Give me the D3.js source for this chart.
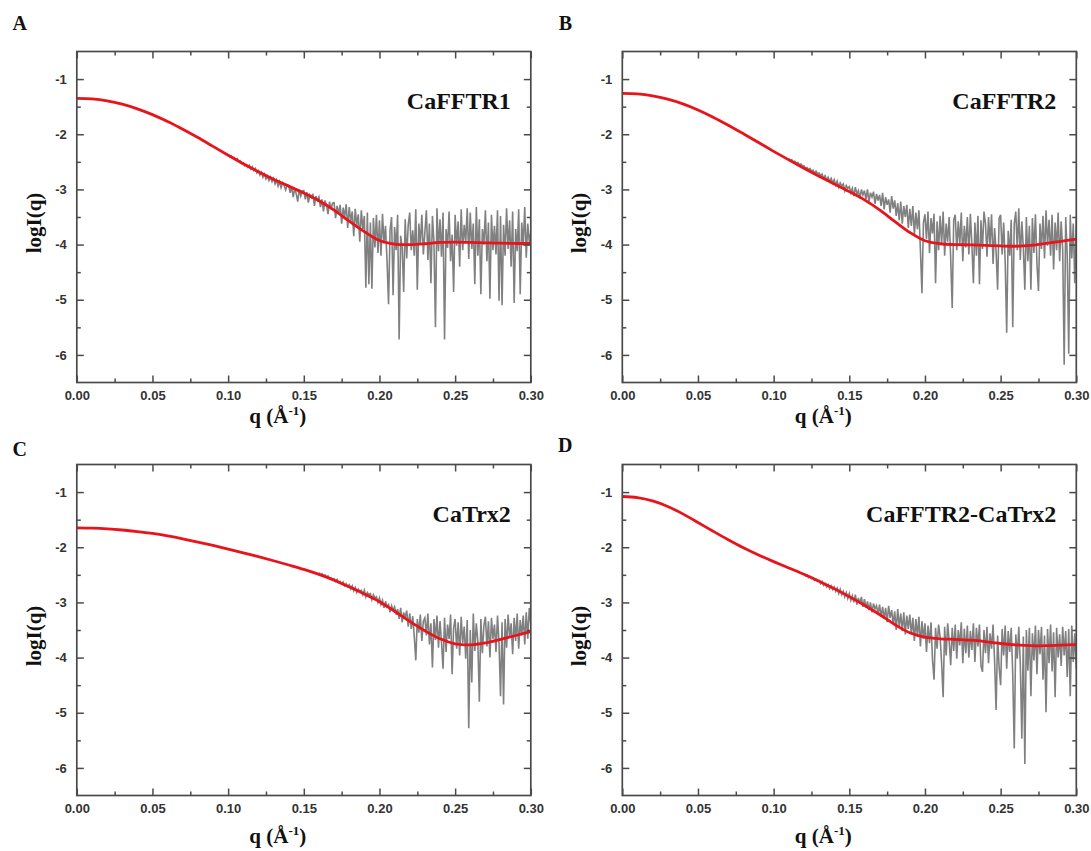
<!DOCTYPE html>
<html>
<head>
<meta charset="utf-8">
<script src="https://cdnjs.cloudflare.com/ajax/libs/d3/7.8.5/d3.min.js"></script>
<style>
  body { margin: 0; background: #fff; }
</style>
</head>
<body>
<div id="chartDiv"></div>
<script>
// SAXS curves, four panels (A-D)

var panelLetters = ['A', 'B', 'C', 'D'];
var sampleNames = ['CaFFTR1', 'CaFFTR2', 'CaTrx2', 'CaFFTR2-CaTrx2'];

var xTicks = [0, 0.05, 0.10, 0.15, 0.20, 0.25, 0.30];
var xMinorTicks = [0.025, 0.075, 0.125, 0.175, 0.225, 0.275];
var yTicks = [-1, -2, -3, -4, -5, -6];
var yMinorTicks = [-1.5, -2.5, -3.5, -4.5, -5.5];

// fitted model curves (red), sampled every 0.01 from q = 0 to 0.30
var qFit = [0, 0.01, 0.02, 0.03, 0.04, 0.05, 0.06, 0.07, 0.08, 0.09, 0.10,
            0.11, 0.12, 0.13, 0.14, 0.15, 0.16, 0.17, 0.18, 0.19, 0.20,
            0.21, 0.22, 0.23, 0.24, 0.25, 0.26, 0.27, 0.28, 0.29, 0.30];
var fitA = [-1.35,-1.36,-1.395,-1.455,-1.54,-1.645,-1.77,-1.91,-2.06,-2.22,-2.38,
            -2.535,-2.68,-2.815,-2.94,-3.065,-3.205,-3.375,-3.575,-3.765,-3.925,
            -3.99,-4.00,-3.985,-3.96,-3.955,-3.96,-3.97,-3.975,-3.98,-3.98];
var fitB = [-1.26,-1.27,-1.305,-1.365,-1.45,-1.56,-1.69,-1.835,-1.99,-2.15,-2.31,
            -2.465,-2.615,-2.76,-2.90,-3.04,-3.19,-3.37,-3.58,-3.78,-3.93,
            -3.985,-4.00,-4.005,-4.015,-4.025,-4.03,-4.015,-3.98,-3.94,-3.90];
var fitC = [-1.65,-1.655,-1.667,-1.687,-1.715,-1.75,-1.795,-1.847,-1.905,-1.967,-2.032,
            -2.10,-2.171,-2.245,-2.322,-2.402,-2.492,-2.597,-2.717,-2.847,-2.987,
            -3.16,-3.345,-3.515,-3.66,-3.75,-3.77,-3.735,-3.67,-3.60,-3.53];
var fitD = [-1.08,-1.10,-1.16,-1.26,-1.395,-1.55,-1.71,-1.865,-2.01,-2.14,-2.26,
            -2.375,-2.49,-2.615,-2.75,-2.895,-3.05,-3.22,-3.40,-3.55,-3.63,
            -3.66,-3.67,-3.685,-3.71,-3.745,-3.77,-3.785,-3.785,-3.775,-3.765];

// measured data (grey), one point every 0.001 starting at qStart
var qStep = 0.001;
var qStartA = 0.100;
var dataA = [
  -2.36,-2.41,-2.39,-2.43,-2.42,-2.47,-2.44,-2.49,-2.48,-2.53,
  -2.52,-2.57,-2.55,-2.60,-2.56,-2.63,-2.59,-2.66,-2.62,-2.70,
  -2.66,-2.74,-2.69,-2.78,-2.72,-2.81,-2.76,-2.84,-2.78,-2.86,
  -2.80,-2.90,-2.83,-2.94,-2.86,-2.97,-2.88,-2.93,-3.01,-2.92,
  -2.93,-3.06,-2.95,-3.14,-2.98,-3.08,-3.22,-3.00,-3.12,-3.03,
  -3.02,-3.18,-3.05,-3.24,-3.10,-3.15,-3.08,-3.30,-3.12,-3.20,
  -3.14,-3.32,-3.18,-3.40,-3.20,-3.28,-3.45,-3.22,-3.36,-3.25,
  -3.24,-3.52,-3.30,-3.45,-3.28,-3.62,-3.33,-3.50,-3.27,-3.70,
  -3.32,-3.58,-3.40,-3.85,-3.35,-3.66,-3.45,-3.95,-3.38,-3.72,
  -3.48,-4.78,-3.42,-4.72,-3.60,-4.80,-3.52,-4.05,-3.46,-4.15,
  -3.56,-4.20,-3.44,-3.98,-3.66,-4.30,-5.08,-3.74,-3.50,-4.92,
  -3.68,-4.10,-3.46,-5.72,-3.84,-4.05,-4.86,-3.54,-4.25,-3.64,
  -3.42,-4.10,-3.74,-4.20,-3.36,-4.82,-3.62,-4.00,-3.46,-4.18,
  -3.78,-3.38,-4.28,-3.62,-4.70,-3.48,-3.96,-5.50,-3.34,-4.12,
  -3.54,-4.22,-3.42,-5.72,-3.72,-4.06,-3.40,-4.30,-3.82,-4.86,
  -3.46,-4.02,-3.58,-4.40,-3.36,-4.10,-3.64,-3.96,-3.34,-4.26,
  -3.42,-4.08,-3.62,-4.72,-3.32,-4.20,-3.54,-4.90,-3.72,-4.00,
  -3.38,-4.30,-3.60,-4.98,-3.46,-4.10,-3.66,-4.18,-3.38,-5.02,
  -3.48,-5.10,-3.64,-4.20,-3.34,-4.08,-3.56,-4.40,-3.40,-5.06,
  -3.72,-4.12,-3.36,-4.90,-3.60,-4.02,-3.32,-4.24,-3.62,-3.96,-3.78
];
var qStartB = 0.110;
var dataB = [
  -2.44,-2.47,-2.46,-2.50,-2.49,-2.52,-2.51,-2.55,-2.54,-2.57,
  -2.57,-2.61,-2.60,-2.64,-2.62,-2.67,-2.65,-2.70,-2.67,-2.72,
  -2.70,-2.76,-2.72,-2.80,-2.75,-2.83,-2.78,-2.86,-2.80,-2.88,
  -2.82,-2.92,-2.85,-2.96,-2.88,-2.94,-2.90,-3.02,-2.93,-2.98,
  -2.95,-3.06,-2.98,-3.12,-2.96,-3.08,-3.02,-3.16,-3.00,-3.10,
  -3.02,-3.18,-3.00,-3.22,-3.06,-3.14,-3.04,-3.26,-3.08,-3.20,
  -3.10,-3.30,-3.06,-3.36,-3.14,-3.28,-3.18,-3.42,-3.12,-3.35,
  -3.20,-3.48,-3.25,-3.56,-3.22,-3.62,-3.30,-3.50,-3.28,-3.70,
  -3.35,-3.66,-3.30,-3.82,-3.42,-3.72,-3.38,-4.10,-4.88,-3.60,
  -3.45,-3.90,-3.40,-4.15,-3.52,-3.80,-3.44,-4.70,-3.58,-4.10,
  -3.48,-4.00,-3.40,-4.20,-3.62,-3.95,-3.50,-4.25,-5.15,-3.55,
  -3.46,-4.10,-3.58,-4.00,-3.42,-4.30,-3.66,-4.05,-3.50,-4.18,
  -3.44,-4.00,-4.70,-3.60,-4.20,-3.48,-4.72,-3.56,-4.08,-3.40,
  -3.62,-4.22,-3.50,-4.00,-3.45,-4.35,-3.70,-4.12,-4.82,-3.52,
  -3.46,-4.18,-3.60,-4.30,-5.60,-3.75,-4.20,-3.55,-5.50,-3.62,
  -3.40,-4.10,-3.34,-4.28,-3.58,-4.05,-4.82,-3.50,-4.30,-3.66,
  -4.82,-3.52,-4.15,-3.45,-4.35,-4.84,-3.62,-4.08,-3.48,-4.25,
  -3.38,-4.02,-3.55,-4.20,-3.46,-4.45,-3.60,-4.10,-3.42,-4.30,
  -3.58,-4.08,-6.18,-3.50,-4.18,-5.98,-3.46,-4.25,-3.62,-4.70,-3.55
];
var qStartC = 0.160;
var dataC = [
  -2.46,-2.50,-2.48,-2.52,-2.50,-2.54,-2.52,-2.56,-2.55,-2.58,
  -2.57,-2.62,-2.58,-2.64,-2.62,-2.66,-2.63,-2.70,-2.66,-2.72,
  -2.68,-2.76,-2.70,-2.79,-2.73,-2.82,-2.76,-2.80,-2.78,-2.86,
  -2.78,-2.90,-2.82,-2.86,-2.84,-2.95,-2.86,-2.92,-2.90,-3.00,
  -2.92,-3.04,-2.96,-3.10,-2.98,-3.08,-3.04,-3.18,-3.06,-3.14,
  -3.08,-3.22,-3.12,-3.30,-3.10,-3.36,-3.18,-3.28,-3.15,-3.44,
  -3.20,-3.48,-3.25,-3.62,-4.05,-3.30,-3.55,-3.22,-3.70,-3.34,
  -3.28,-3.60,-3.20,-3.76,-3.38,-4.18,-3.30,-3.68,-3.24,-3.82,
  -3.34,-3.72,-4.20,-3.28,-3.90,-3.40,-3.66,-3.22,-4.30,-3.46,
  -3.30,-3.84,-3.36,-3.96,-3.26,-3.74,-3.44,-4.02,-3.32,-5.28,
  -3.50,-4.45,-3.20,-3.88,-3.38,-3.70,-4.80,-3.30,-3.92,-3.42,
  -3.26,-3.80,-3.34,-4.00,-3.28,-3.66,-3.40,-3.90,-3.24,-3.74,
  -4.70,-3.36,-4.85,-3.30,-3.82,-3.22,-3.64,-3.38,-3.94,-3.28,
  -3.70,-3.20,-3.84,-3.32,-3.60,-3.24,-3.76,-3.18,-3.66,-3.10,-3.40
];
var qStartD = 0.120;
var dataD = [
  -2.48,-2.52,-2.50,-2.55,-2.53,-2.57,-2.55,-2.60,-2.58,-2.62,
  -2.60,-2.66,-2.62,-2.69,-2.66,-2.72,-2.68,-2.75,-2.70,-2.77,
  -2.72,-2.80,-2.74,-2.84,-2.76,-2.86,-2.80,-2.90,-2.82,-2.93,
  -2.84,-2.96,-2.88,-3.00,-2.86,-3.04,-2.92,-3.02,-2.90,-3.08,
  -2.94,-3.10,-2.98,-3.14,-3.00,-3.18,-3.02,-3.12,-3.06,-3.22,
  -3.04,-3.26,-3.08,-3.30,-3.10,-3.36,-3.06,-3.28,-3.14,-3.40,
  -3.16,-3.50,-3.12,-3.45,-3.20,-3.52,-3.18,-3.58,-3.24,-3.48,
  -3.22,-3.58,-3.28,-3.70,-3.30,-3.62,-3.26,-3.80,-3.34,-3.66,
  -3.38,-3.90,-3.42,-3.74,-3.36,-4.05,-4.40,-3.46,-3.84,-3.40,
  -3.62,-4.10,-4.72,-3.44,-3.96,-3.38,-3.70,-4.14,-3.46,-3.88,
  -3.40,-4.02,-3.50,-3.78,-3.36,-4.10,-3.48,-3.92,-3.42,-4.00,
  -3.52,-3.86,-3.38,-4.08,-3.46,-3.80,-3.40,-4.15,-4.26,-3.50,
  -3.92,-3.44,-4.10,-3.56,-3.84,-3.40,-4.05,-4.95,-3.60,-4.18,
  -4.50,-3.48,-3.96,-3.42,-4.20,-3.52,-3.90,-3.46,-4.30,-5.65,
  -3.58,-4.02,-3.44,-4.12,-5.47,-3.62,-5.93,-3.50,-4.24,-3.46,
  -4.70,-3.56,-4.05,-3.42,-4.30,-3.50,-3.94,-3.44,-4.40,-3.60,
  -4.99,-3.48,-4.10,-3.40,-4.25,-3.54,-4.72,-3.46,-4.00,-3.58,
  -4.15,-3.44,-3.96,-3.52,-4.35,-3.48,-4.70,-3.42,-4.08,-3.56,-4.20
];

var fits = [fitA, fitB, fitC, fitD];
var datas = [dataA, dataB, dataC, dataD];
var qStarts = [qStartA, qStartB, qStartC, qStartD];

// layout
var chartWidth = 1091;
var chartHeight = 851;
var boxW = 454;
var boxH = 331;
var panels = [
  { x: 76.8,  y: 51.5,  letterY: 30,  qLabelY: 423 },
  { x: 622.3, y: 51.5,  letterY: 30,  qLabelY: 423 },
  { x: 76.8,  y: 464.5, letterY: 456, qLabelY: 843 },
  { x: 622.3, y: 464.5, letterY: 452, qLabelY: 843 }
];

var serif = '"Liberation Serif", "Times New Roman", serif';
var sans = '"Liberation Sans", Arial, sans-serif';
var axisColor = '#4a4a4a';

var svg = d3.select('#chartDiv')
            .append('svg')
            .attr('width', chartWidth)
            .attr('height', chartHeight);

var x = d3.scaleLinear().domain([0, 0.30]).range([0, boxW]);
var y = d3.scaleLinear().domain([-6.5, -0.5]).range([boxH, 0]);

var fitLine = d3.line()
  .x(function(d) { return x(d[0]); })
  .y(function(d) { return y(d[1]); })
  .curve(d3.curveCatmullRom.alpha(0.5));

var dataLine = d3.line()
  .x(function(d) { return x(d[0]); })
  .y(function(d) { return y(d[1]); });

panels.forEach(function(p, i) {
  var g = svg.append('g').attr('transform', 'translate(' + p.x + ',' + p.y + ')');

  g.append('clipPath').attr('id', 'clip' + i)
    .append('rect').attr('width', boxW).attr('height', boxH);

  // grey measured curve
  var pts = datas[i].map(function(v, k) {
    return [+(qStarts[i] + k * qStep).toFixed(3), v];
  });
  g.append('path')
    .datum(pts)
    .attr('clip-path', 'url(#clip' + i + ')')
    .attr('d', dataLine)
    .attr('fill', 'none')
    .attr('stroke', '#808080')
    .attr('stroke-width', 1.6);

  // red fit
  var fitPts = qFit.map(function(q, k) { return [q, fits[i][k]]; });
  g.append('path')
    .datum(fitPts)
    .attr('clip-path', 'url(#clip' + i + ')')
    .attr('d', fitLine)
    .attr('fill', 'none')
    .attr('stroke', '#e8141b')
    .attr('stroke-width', 2.8);

  // axes, ticks pointing inwards on all four sides
  g.append('g').attr('transform', 'translate(0,' + boxH + ')')
    .call(d3.axisBottom(x).tickValues(xTicks).tickSizeInner(-7).tickSizeOuter(0)
      .tickPadding(8).tickFormat(d3.format('.2f')));
  g.append('g').attr('transform', 'translate(0,' + boxH + ')')
    .call(d3.axisBottom(x).tickValues(xMinorTicks).tickSizeInner(-4).tickSizeOuter(0).tickFormat(''));
  g.append('g')
    .call(d3.axisTop(x).tickValues(xTicks).tickSizeInner(-7).tickSizeOuter(0).tickFormat(''));
  g.append('g')
    .call(d3.axisTop(x).tickValues(xMinorTicks).tickSizeInner(-4).tickSizeOuter(0).tickFormat(''));

  g.append('g')
    .call(d3.axisLeft(y).tickValues(yTicks).tickSizeInner(-7).tickSizeOuter(0)
      .tickPadding(10).tickFormat(function(d) { return String(d); }));
  g.append('g')
    .call(d3.axisLeft(y).tickValues(yMinorTicks).tickSizeInner(-4).tickSizeOuter(0).tickFormat(''));
  g.append('g').attr('transform', 'translate(' + boxW + ',0)')
    .call(d3.axisRight(y).tickValues(yTicks).tickSizeInner(-7).tickSizeOuter(0).tickFormat(''));
  g.append('g').attr('transform', 'translate(' + boxW + ',0)')
    .call(d3.axisRight(y).tickValues(yMinorTicks).tickSizeInner(-4).tickSizeOuter(0).tickFormat(''));

  g.selectAll('.domain').remove();
  g.selectAll('.tick line').attr('stroke', axisColor).attr('stroke-width', 1.5);
  g.selectAll('.tick text')
    .attr('fill', '#333')
    .style('font-family', sans)
    .style('font-size', '13px')
    .style('font-weight', 'bold');

  // frame
  g.append('rect')
    .attr('width', boxW)
    .attr('height', boxH)
    .attr('fill', 'none')
    .attr('stroke', axisColor)
    .attr('stroke-width', 1.7);

  // sample name
  g.append('text')
    .attr('x', boxW - 20)
    .attr('y', 57.5)
    .attr('text-anchor', 'end')
    .style('font-family', serif)
    .style('font-size', '24px')
    .style('font-weight', 'bold')
    .attr('fill', '#111')
    .text(sampleNames[i]);

  // axis titles
  g.append('text')
    .attr('transform', 'translate(-36,' + (boxH / 2 + 6) + ') rotate(-90)')
    .attr('text-anchor', 'middle')
    .style('font-family', serif)
    .style('font-size', '21px')
    .style('font-weight', 'bold')
    .attr('fill', '#111')
    .text('logI(q)');

  var xl = svg.append('text')
    .attr('x', p.x + 201)
    .attr('y', p.qLabelY)
    .attr('text-anchor', 'middle')
    .style('font-family', serif)
    .style('font-size', '21px')
    .style('font-weight', 'bold')
    .attr('fill', '#111');
  xl.append('tspan').text('q (Å');
  xl.append('tspan').attr('dy', -8).style('font-size', '13px').text('-1');
  xl.append('tspan').attr('dy', 8).text(')');

  // panel letter
  svg.append('text')
    .attr('x', p.x - 57)
    .attr('y', p.letterY)
    .attr('text-anchor', 'middle')
    .style('font-family', serif)
    .style('font-size', '20px')
    .style('font-weight', 'bold')
    .attr('fill', '#111')
    .text(panelLetters[i]);
});
</script>
</body>
</html>
